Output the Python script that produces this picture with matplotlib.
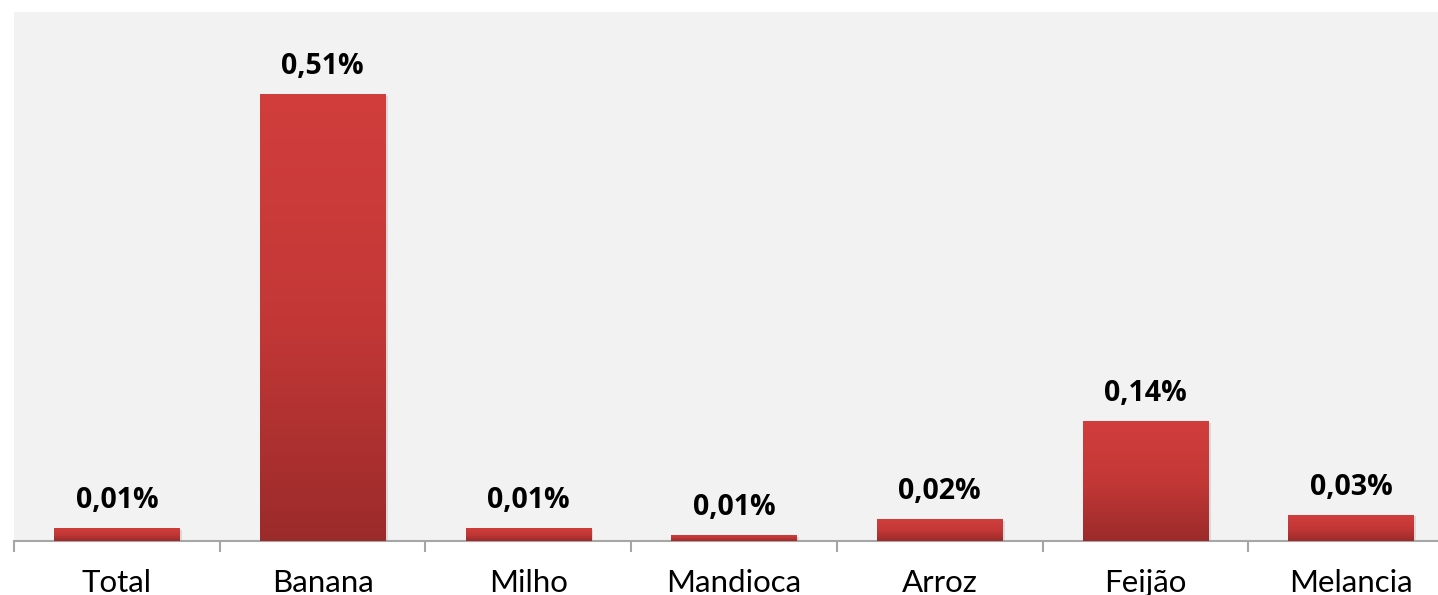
import numpy as np
import matplotlib.pyplot as plt
from matplotlib.colors import LinearSegmentedColormap

categories = ['Total', 'Banana', 'Milho', 'Mandioca', 'Arroz', 'Feijão', 'Melancia']
values = [0.015, 0.51, 0.015, 0.007, 0.025, 0.137, 0.030]
value_labels = ['0,01%', '0,51%', '0,01%', '0,01%', '0,02%', '0,14%', '0,03%']

plt.rcParams['font.family'] = ['Lato', 'DejaVu Sans']

fig = plt.figure(figsize=(14.38, 5.95), dpi=100)
W, H = 1438, 595
# plot area: left 14px, top 12px, bottom (axis) at 541px; last category runs past the right edge
ax = fig.add_axes([14 / W, (H - 541) / H, 1440 / W, (541 - 12) / H])
ax.set_facecolor('#F2F2F2')

x = np.arange(len(categories))
bars = ax.bar(x, values, width=0.61, color='#C03736', zorder=2)

grad = LinearSegmentedColormap.from_list('redgrad', ['#9B2B2A', '#C33837', '#D13E3C'])
g = np.linspace(0, 1, 256).reshape(-1, 1)
for b in bars:
    x0, y0 = b.get_x(), b.get_y()
    w, h = b.get_width(), b.get_height()
    # soft shadow
    ax.bar(x0 + w / 2 + 0.012, h, width=w, bottom=-0.002, color='#000000', alpha=0.10, zorder=1)
    im = ax.imshow(g, cmap=grad, origin='lower', aspect='auto',
                   extent=(x0, x0 + w, y0, y0 + h), zorder=3)
    im.set_clip_path(b)

for xi, v, lab in zip(x, values, value_labels):
    ax.annotate(lab, (xi, v), xytext=(0, 14.5), textcoords='offset points',
                ha='center', va='baseline', fontsize=20.5, fontweight='bold',
                family=['Open Sans', 'DejaVu Sans'], color='#000000')

ax.set_xlim(-0.5, len(categories) - 0.5)
ax.set_ylim(0, 0.6036)

for s in ['top', 'right', 'left']:
    ax.spines[s].set_visible(False)
ax.spines['bottom'].set_color('#A6A6A6')
ax.spines['bottom'].set_linewidth(1.5)
ax.set_yticks([])
ax.set_xticks([])
ax.set_xticks(np.arange(-0.5, len(categories)), minor=True)
ax.tick_params(axis='x', which='minor', length=8, width=1.5, color='#A6A6A6', labelbottom=False)

# category labels, baseline at ~592px from the top
cat_y = -(592 - 541) / (541 - 12)
for xi, c in zip(x, categories):
    ax.text(xi, cat_y, c, transform=ax.get_xaxis_transform(), fontsize=22.5, color='#000000',
            ha='center', va='baseline')

fig.savefig('out.png', dpi=100, facecolor='white')
